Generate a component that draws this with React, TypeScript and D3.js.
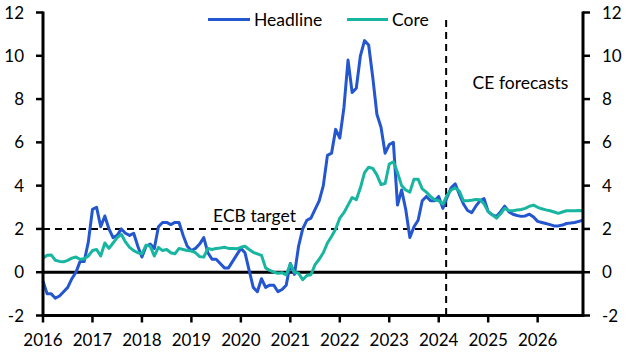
import React from "react";
import * as d3 from "d3";

// Monthly data, Jan 2016 .. Dec 2026 (index 0..131)
const headline2016 = [-0.4, -1.0, -1.0, -1.2, -1.1, -0.9, -0.7, -0.3, 0.0, 0.5, 0.5, 1.4];
const headline2017 = [2.9, 3.0, 2.1, 2.6, 2.0, 1.6, 1.7, 2.0, 1.8, 1.7, 1.8, 1.2];
const headline2018 = [0.7, 1.2, 1.3, 1.1, 2.1, 2.3, 2.3, 2.2, 2.3, 2.3, 1.7, 1.2];
const headline2019 = [1.0, 1.1, 1.3, 1.6, 0.9, 0.6, 0.6, 0.4, 0.2, 0.2, 0.5, 0.8];
const headline2020 = [1.1, 0.9, 0.1, -0.7, -0.9, -0.3, -0.7, -0.6, -0.6, -0.9, -0.8, -0.6];
const headline2021 = [0.4, -0.1, 1.2, 2.0, 2.4, 2.5, 2.9, 3.3, 4.0, 5.4, 5.5, 6.6];
const headline2022 = [6.2, 7.6, 9.8, 8.3, 8.5, 10.0, 10.7, 10.5, 9.0, 7.3, 6.7, 5.5];
const headline2023 = [5.9, 6.0, 3.1, 3.8, 2.9, 1.6, 2.1, 2.4, 3.3, 3.5, 3.3, 3.3];
const headline2024 = [3.5, 2.95, 3.45, 3.9, 4.08, 3.6, 3.15, 2.85, 2.75, 3.05, 3.3, 3.4];
const headline2025 = [2.8, 2.65, 2.58, 2.8, 3.05, 2.8, 2.68, 2.62, 2.58, 2.6, 2.68, 2.55];
const headline2026 = [2.35, 2.3, 2.25, 2.2, 2.14, 2.14, 2.18, 2.25, 2.27, 2.3, 2.35, 2.4];

const core2016 = [0.65, 0.78, 0.8, 0.55, 0.5, 0.48, 0.55, 0.65, 0.7, 0.6, 0.62, 0.75];
const core2017 = [1.0, 1.05, 0.75, 1.35, 1.1, 1.35, 1.6, 1.75, 1.4, 1.15, 1.0, 0.9];
const core2018 = [0.85, 1.25, 1.2, 0.75, 1.15, 1.0, 1.05, 0.9, 0.85, 1.1, 1.05, 1.0];
const core2019 = [0.98, 0.9, 0.72, 0.7, 1.1, 1.05, 1.1, 1.12, 1.15, 1.1, 1.1, 1.08];
const core2020 = [1.15, 1.2, 1.05, 0.92, 0.85, 0.78, 0.2, 0.08, 0.0, -0.05, -0.02, -0.12];
const core2021 = [0.38, 0.0, -0.05, -0.35, -0.15, -0.12, 0.35, 0.6, 0.9, 1.35, 1.65, 2.0];
const core2022 = [2.5, 2.75, 3.1, 3.45, 3.35, 3.9, 4.6, 4.85, 4.8, 4.5, 4.05, 4.1];
const core2023 = [5.0, 5.1, 4.6, 4.0, 3.8, 3.7, 4.3, 4.3, 3.85, 3.7, 3.5, 3.35];
const core2024 = [3.3, 3.15, 3.55, 3.8, 3.9, 3.75, 3.3, 3.3, 3.33, 3.36, 3.35, 3.15];
const core2025 = [2.8, 2.65, 2.5, 2.7, 2.95, 2.85, 2.84, 2.87, 2.9, 2.95, 3.05, 3.1];
const core2026 = [3.0, 2.93, 2.88, 2.84, 2.78, 2.72, 2.78, 2.84, 2.84, 2.84, 2.85, 2.84];

const headline = [
  ...headline2016, ...headline2017, ...headline2018, ...headline2019, ...headline2020,
  ...headline2021, ...headline2022, ...headline2023, ...headline2024, ...headline2025, ...headline2026,
];
const core = [
  ...core2016, ...core2017, ...core2018, ...core2019, ...core2020,
  ...core2021, ...core2022, ...core2023, ...core2024, ...core2025, ...core2026,
];

const yearLabels = ["2016", "2017", "2018", "2019", "2020", "2021", "2022", "2023", "2024", "2025", "2026"];
const yTicks = [-2, 0, 2, 4, 6, 8, 10, 12];
const ecbTarget = 2;
const forecastStartIndex = 97.8;
const seriesNames = ["Headline", "Core"];

const W = 630;
const H = 355;
const LEFT = 43;
const RIGHT = 583;
const TOP = 12.5;
const BOTTOM = 315.5;

const BLUE = "#2356cf";
const TEAL = "#18b6a1";
const FONT = "Lato, 'Noto Sans', sans-serif";
const NUM_SIZE = 17;
const TXT_SIZE = 17.5;

export default function App() {
  const x = d3.scaleLinear().domain([0, headline.length - 1]).range([LEFT, RIGHT]);
  const y = d3.scaleLinear().domain([-2, 12]).range([BOTTOM, TOP]);
  const line = d3
    .line<number>()
    .x((_, i) => x(i))
    .y((d) => y(d))
    .curve(d3.curveLinear);

  return (
    <svg
      width={W}
      height={H}
      style={{ position: "absolute", left: 0, top: 0, background: "#fff" }}
      fontFamily={FONT}
    >
      {/* zero line */}
      <line x1={LEFT} x2={RIGHT} y1={y(0)} y2={y(0)} stroke="#000" strokeWidth={3} />
      {/* ECB target */}
      <line
        x1={LEFT}
        x2={RIGHT}
        y1={y(ecbTarget)}
        y2={y(ecbTarget)}
        stroke="#000"
        strokeWidth={2}
        strokeDasharray="7,5"
      />
      {/* forecast divider */}
      <line
        x1={x(forecastStartIndex)}
        x2={x(forecastStartIndex)}
        y1={20}
        y2={BOTTOM}
        stroke="#000"
        strokeWidth={2}
        strokeDasharray="7,5"
      />
      <path d={line(headline) || ""} fill="none" stroke={BLUE} strokeWidth={3} strokeLinejoin="round" />
      <path d={line(core) || ""} fill="none" stroke={TEAL} strokeWidth={3} strokeLinejoin="round" />

      {/* axes */}
      <line x1={LEFT} x2={LEFT} y1={TOP - 1} y2={BOTTOM + 1.5} stroke="#000" strokeWidth={3} />
      <line x1={RIGHT} x2={RIGHT} y1={TOP - 1} y2={BOTTOM + 1.5} stroke="#000" strokeWidth={3} />
      <line x1={LEFT} x2={RIGHT} y1={BOTTOM} y2={BOTTOM} stroke="#000" strokeWidth={3} />

      {yTicks.map((t) => (
        <g key={"y" + t}>
          <line x1={LEFT - 7} x2={LEFT} y1={y(t)} y2={y(t)} stroke="#000" strokeWidth={2.5} />
          <line x1={RIGHT} x2={RIGHT + 7} y1={y(t)} y2={y(t)} stroke="#000" strokeWidth={2.5} />
          <text x={24} y={y(t)} dy="0.36em" textAnchor="end" fontSize={NUM_SIZE} fill="#000">
            {t}
          </text>
          <text x={602} y={y(t)} dy="0.36em" textAnchor="start" fontSize={NUM_SIZE} fill="#000">
            {t}
          </text>
        </g>
      ))}

      {yearLabels.map((lab, i) => (
        <g key={lab}>
          <line x1={x(i * 12)} x2={x(i * 12)} y1={BOTTOM} y2={BOTTOM + 7} stroke="#000" strokeWidth={2.5} />
          <text x={x(i * 12)} y={346} textAnchor="middle" fontSize={NUM_SIZE} fill="#000">
            {lab}
          </text>
        </g>
      ))}

      <text x={254.5} y={222} textAnchor="middle" fontSize={TXT_SIZE} fill="#000">
        ECB target
      </text>
      <text x={520.5} y={89} textAnchor="middle" fontSize={TXT_SIZE} fill="#000">
        CE forecasts
      </text>

      {/* legend */}
      <line x1={208} x2={250} y1={19.5} y2={19.5} stroke={BLUE} strokeWidth={3} />
      <text x={254} y={25.5} fontSize={TXT_SIZE} fill="#000">
        {seriesNames[0]}
      </text>
      <line x1={347} x2={388} y1={19.5} y2={19.5} stroke={TEAL} strokeWidth={3} />
      <text x={392} y={25.5} fontSize={TXT_SIZE} fill="#000">
        {seriesNames[1]}
      </text>
    </svg>
  );
}
